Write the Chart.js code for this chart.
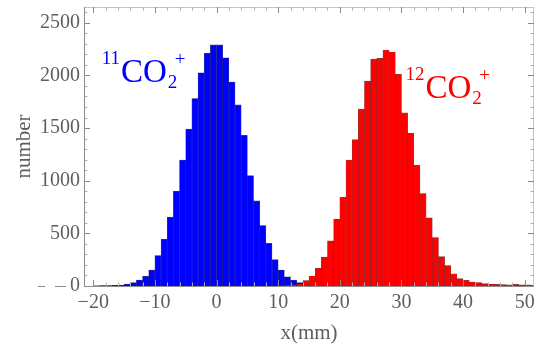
<!DOCTYPE html>
<html>
<head>
<meta charset="utf-8">
<script src="https://cdn.jsdelivr.net/npm/chart.js@4.4.1/dist/chart.umd.min.js"></script>
<style>
  html, body { margin: 0; padding: 0; background: #fff; }
  #wrap { width: 542px; height: 346px; }
</style>
</head>
<body>
<div id="wrap"><canvas id="chart" width="542" height="346"></canvas></div>
<script>
// histogram counts, 1 mm bins
const blueStart = -20; // left edge of first 11CO2+ bin (mm)
const blueCounts = [2, 5, 5, 6, 8, 19, 32, 57, 92, 152, 289, 444, 654, 901, 1195, 1490, 1781, 2025, 2210, 2290,
  2290, 2168, 1937, 1720, 1430, 1048, 808, 575, 405, 250, 152, 87, 55, 32, 15, 8, 4];
const redStart = 10; // left edge of first 12CO2+ bin (mm)
const redCounts = [3, 6, 12, 22, 52, 95, 168, 275, 430, 636, 842, 1195, 1390, 1680, 1946, 2155, 2162, 2241, 2222, 2010,
  1644, 1450, 1145, 878, 648, 460, 279, 195, 115, 70, 53, 38, 33, 22, 19, 16, 14, 12, 17, 12, 10, 8];

const xTicks = [-20, -10, 0, 10, 20, 30, 40, 50];
const yTicks = [0, 500, 1000, 1500, 2000, 2500];

const SERIF = "'Liberation Serif', 'DejaVu Serif', serif";
const GRAY = "#5e5e5e";

const toPoints = (start, counts) => counts.map((c, i) => ({ x: start + i + 0.5, y: c }));

// frame, inward ticks and the two ion labels
const framePlugin = {
  id: "frame",
  afterDatasetsDraw(chart) {
    const { ctx, chartArea: a, scales } = chart;
    const x = scales.x, y = scales.y;
    ctx.save();
    ctx.lineWidth = 1;

    // top / right frame
    ctx.strokeStyle = "#c4c4c4";
    ctx.beginPath();
    ctx.moveTo(a.left, a.top + 0.5); ctx.lineTo(a.right, a.top + 0.5);
    ctx.moveTo(a.right - 0.5, a.top); ctx.lineTo(a.right - 0.5, a.bottom);
    ctx.stroke();

    // x ticks (bottom + top)
    for (let v = -20; v <= 50; v += 2) {
      const px = Math.round(x.getPixelForValue(v)) + 0.5;
      const len = v % 10 === 0 ? 6 : 3.5;
      ctx.strokeStyle = v % 10 === 0 ? "#8a8a8a" : "#b0b0b0";
      ctx.beginPath();
      ctx.moveTo(px, a.bottom); ctx.lineTo(px, a.bottom - len);
      ctx.moveTo(px, a.top); ctx.lineTo(px, a.top + len);
      ctx.stroke();
    }
    // y ticks (left + right)
    for (let v = 0; v <= 2600; v += 100) {
      const py = Math.round(y.getPixelForValue(v)) + 0.5;
      const len = v % 500 === 0 ? 6 : 3.5;
      ctx.strokeStyle = v % 500 === 0 ? "#8a8a8a" : "#b0b0b0";
      ctx.beginPath();
      ctx.moveTo(a.left, py); ctx.lineTo(a.left + len, py);
      ctx.moveTo(a.right, py); ctx.lineTo(a.right - len, py);
      ctx.stroke();
    }

    // left / bottom axes
    ctx.strokeStyle = "#8c8c8c";
    ctx.beginPath();
    ctx.moveTo(a.left + 0.5, a.top); ctx.lineTo(a.left + 0.5, a.bottom);
    ctx.moveTo(a.left, a.bottom + 0.5); ctx.lineTo(a.right, a.bottom + 0.5);
    // stray dashes left of the "0" label
    ctx.moveTo(38, a.bottom + 0.5); ctx.lineTo(45, a.bottom + 0.5);
    ctx.moveTo(55, a.bottom + 0.5); ctx.lineTo(66, a.bottom + 0.5);
    ctx.stroke();

    // ion labels
    const ion = (mass, xv, yv, color) => {
      const px = x.getPixelForValue(xv), py = y.getPixelForValue(yv);
      ctx.fillStyle = color;
      ctx.textBaseline = "alphabetic";
      ctx.font = "19px " + SERIF;
      const mw = ctx.measureText(mass).width;
      ctx.fillText(mass, px - mw - 1, py - 18);
      ctx.font = "33px " + SERIF;
      const cw = ctx.measureText("CO").width;
      ctx.fillText("CO", px, py);
      ctx.font = "19px " + SERIF;
      ctx.fillText("2", px + cw + 1, py + 6);
      ctx.fillText("+", px + cw + 8, py - 17);
    };
    ion("11", -15.5, 1933, "#0000ff");
    ion("12", 33.9, 1790, "#ff0000");

    ctx.restore();
  }
};

new Chart(document.getElementById("chart"), {
  type: "bar",
  data: {
    datasets: [
      {
        label: "12CO2+",
        data: toPoints(redStart, redCounts),
        backgroundColor: "#ff0000",
        borderColor: "rgba(90, 0, 0, 0.75)",
        borderWidth: 0.6,
        borderSkipped: "start",
        barPercentage: 1,
        categoryPercentage: 1,
        grouped: false
      },
      {
        label: "11CO2+",
        data: toPoints(blueStart, blueCounts),
        backgroundColor: "#0000ff",
        borderColor: "rgba(0, 0, 80, 0.75)",
        borderWidth: 0.6,
        borderSkipped: "start",
        barPercentage: 1,
        categoryPercentage: 1,
        grouped: false
      }
    ]
  },
  options: {
    responsive: false,
    animation: false,
    layout: { padding: { top: 7, right: 8, left: 0, bottom: 0 } },
    plugins: { legend: { display: false }, tooltip: { enabled: false } },
    scales: {
      x: {
        type: "linear",
        min: -21.5,
        max: 51.5,
        offset: false,
        afterBuildTicks: (s) => { s.ticks = xTicks.map((v) => ({ value: v })); },
        afterFit: (s) => { s.height = 60; s.paddingLeft = 0; s.paddingRight = 0; },
        ticks: {
          color: GRAY,
          padding: -3,
          maxRotation: 0,
          font: { family: SERIF, size: 20 },
          callback: (v) => (v < 0 ? "\u2212" + Math.abs(v) : String(v))
        },
        grid: { display: false },
        border: { display: false },
        title: {
          display: true,
          text: "x(mm)",
          color: GRAY,
          font: { family: SERIF, size: 21 },
          padding: { top: 0, bottom: 0 }
        }
      },
      y: {
        min: 0,
        max: 2650,
        afterBuildTicks: (s) => { s.ticks = yTicks.map((v) => ({ value: v })); },
        afterFit: (s) => { s.width = 84; s.paddingTop = 0; s.paddingBottom = 0; },
        ticks: {
          color: GRAY,
          padding: 4,
          font: { family: SERIF, size: 20 },
          callback: (v) => String(v)
        },
        grid: { display: false, drawTicks: false },
        border: { display: false },
        title: {
          display: true,
          text: "number",
          color: GRAY,
          font: { family: SERIF, size: 21 },
          padding: { top: 12, bottom: 0 }
        }
      }
    }
  },
  plugins: [framePlugin]
});
</script>
</body>
</html>
